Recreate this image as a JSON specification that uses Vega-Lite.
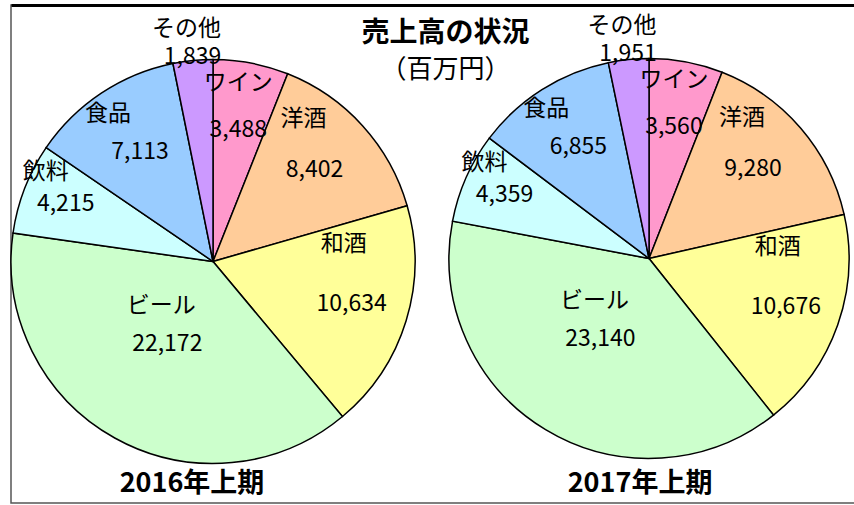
{
  "$schema": "https://vega.github.io/schema/vega-lite/v6.json",
  "width": 845,
  "height": 498,
  "autosize": "none",
  "padding": {"left": 11, "top": 5, "right": 0, "bottom": 2},
  "background": "white",
  "config": {
    "view": {"stroke": "#555", "strokeWidth": 1.5},
    "font": "Noto Sans CJK JP",
    "text": {"font": "Noto Sans CJK JP", "color": "#000"}
  },
  "title": {
    "text": "売上高の状況",
    "subtitle": "（百万円）",
    "anchor": "middle",
    "frame": "group",
    "offset": -78,
    "dx": 12,
    "font": "Noto Sans CJK JP",
    "fontSize": 28,
    "fontWeight": "bold",
    "color": "#000",
    "subtitleFont": "Noto Sans CJK JP",
    "subtitleFontSize": 26,
    "subtitleColor": "#000",
    "subtitlePadding": 9
  },
  "data": {
    "values": [
      {"year": "2016年上期", "name": "ワイン", "value": 3488, "order": 1},
      {"year": "2016年上期", "name": "洋酒", "value": 8402, "order": 2},
      {"year": "2016年上期", "name": "和酒", "value": 10634, "order": 3},
      {"year": "2016年上期", "name": "ビール", "value": 22172, "order": 4},
      {"year": "2016年上期", "name": "飲料", "value": 4215, "order": 5},
      {"year": "2016年上期", "name": "食品", "value": 7113, "order": 6},
      {"year": "2016年上期", "name": "その他", "value": 1839, "order": 7},
      {"year": "2017年上期", "name": "ワイン", "value": 3560, "order": 1},
      {"year": "2017年上期", "name": "洋酒", "value": 9280, "order": 2},
      {"year": "2017年上期", "name": "和酒", "value": 10676, "order": 3},
      {"year": "2017年上期", "name": "ビール", "value": 23140, "order": 4},
      {"year": "2017年上期", "name": "飲料", "value": 4359, "order": 5},
      {"year": "2017年上期", "name": "食品", "value": 6855, "order": 6},
      {"year": "2017年上期", "name": "その他", "value": 1951, "order": 7}
    ]
  },
  "transform": [
    {"stack": "value", "groupby": ["year"], "sort": [{"field": "order", "order": "ascending"}], "as": ["v0", "v1"], "offset": "normalize"},
    {"calculate": "(datum.v0 + datum.v1) / 2", "as": "vm"}
  ],
  "encoding": {
    "x": {
      "field": "year", "type": "nominal",
      "scale": {"type": "band", "domain": ["2016年上期", "2017年上期"], "paddingInner": 0.5, "paddingOuter": 0.219, "align": 0.487},
      "axis": {"orient": "top", "labels": false, "ticks": false, "title": null, "grid": false, "domain": true, "domainColor": "#000", "domainWidth": 3}
    },
    "y": {
      "field": "year", "type": "nominal",
      "scale": {"type": "point", "domain": ["2017年上期", "2016年上期"], "range": [252, 258]},
      "axis": null
    }
  },
  "layer": [
    {
      "transform": [{"filter": {"field": "year", "equal": "2016年上期"}}],
      "mark": {"type": "arc", "radius": 202, "stroke": "#000", "strokeWidth": 1.5},
      "encoding": {
        "theta": {"field": "v0", "type": "quantitative", "scale": {"domain": [0, 1]}},
        "theta2": {"field": "v1"},
        "color": {"field": "name", "type": "nominal", "legend": null,
          "scale": {"domain": ["ワイン", "洋酒", "和酒", "ビール", "飲料", "食品", "その他"], "range": ["#FF99CC", "#FFCC99", "#FFFF99", "#CCFFCC", "#CCFFFF", "#99CCFF", "#CC99FF"]}}
      }
    },
    {
      "transform": [{"filter": {"field": "year", "equal": "2017年上期"}}],
      "mark": {"type": "arc", "radius": 200, "stroke": "#000", "strokeWidth": 1.5},
      "encoding": {
        "theta": {"field": "v0", "type": "quantitative", "scale": {"domain": [0, 1]}},
        "theta2": {"field": "v1"},
        "color": {"field": "name", "type": "nominal", "legend": null,
          "scale": {"domain": ["ワイン", "洋酒", "和酒", "ビール", "飲料", "食品", "その他"], "range": ["#FF99CC", "#FFCC99", "#FFFF99", "#CCFFCC", "#CCFFFF", "#99CCFF", "#CC99FF"]}}
      }
    },
    {"transform": [{"filter": {"field": "name", "equal": "ワイン"}}], "mark": {"type": "text", "radius": 134, "fontSize": 23, "align": "center", "baseline": "middle"}, "encoding": {"theta": {"field": "vm", "type": "quantitative", "scale": {"domain": [0, 1]}}, "text": {"field": "value", "type": "quantitative", "format": ","}}},
    {"transform": [{"filter": {"field": "name", "equal": "ワイン"}}], "mark": {"type": "text", "radius": 134, "dx": 0, "dy": -47, "fontSize": 23, "align": "center", "baseline": "middle"}, "encoding": {"theta": {"field": "vm", "type": "quantitative", "scale": {"domain": [0, 1]}}, "text": {"field": "name"}}},
    {"transform": [{"filter": {"field": "name", "equal": "洋酒"}}], "mark": {"type": "text", "radius": 137, "fontSize": 23, "align": "center", "baseline": "middle"}, "encoding": {"theta": {"field": "vm", "type": "quantitative", "scale": {"domain": [0, 1]}}, "text": {"field": "value", "type": "quantitative", "format": ","}}},
    {"transform": [{"filter": {"field": "name", "equal": "洋酒"}}], "mark": {"type": "text", "radius": 137, "dx": -11, "dy": -51, "fontSize": 23, "align": "center", "baseline": "middle"}, "encoding": {"theta": {"field": "vm", "type": "quantitative", "scale": {"domain": [0, 1]}}, "text": {"field": "name"}}},
    {"transform": [{"filter": {"field": "name", "equal": "和酒"}}], "mark": {"type": "text", "radius": 145, "fontSize": 23, "align": "center", "baseline": "middle"}, "encoding": {"theta": {"field": "vm", "type": "quantitative", "scale": {"domain": [0, 1]}}, "text": {"field": "value", "type": "quantitative", "format": ","}}},
    {"transform": [{"filter": {"field": "name", "equal": "和酒"}}], "mark": {"type": "text", "radius": 145, "dx": -8, "dy": -60, "fontSize": 23, "align": "center", "baseline": "middle"}, "encoding": {"theta": {"field": "vm", "type": "quantitative", "scale": {"domain": [0, 1]}}, "text": {"field": "name"}}},
    {"transform": [{"filter": {"field": "name", "equal": "ビール"}}], "mark": {"type": "text", "radius": 94, "fontSize": 23, "align": "center", "baseline": "middle"}, "encoding": {"theta": {"field": "vm", "type": "quantitative", "scale": {"domain": [0, 1]}}, "text": {"field": "value", "type": "quantitative", "format": ","}}},
    {"transform": [{"filter": {"field": "name", "equal": "ビール"}}], "mark": {"type": "text", "radius": 94, "dx": -6, "dy": -38, "fontSize": 23, "align": "center", "baseline": "middle"}, "encoding": {"theta": {"field": "vm", "type": "quantitative", "scale": {"domain": [0, 1]}}, "text": {"field": "name"}}},
    {"transform": [{"filter": {"field": "name", "equal": "飲料"}}], "mark": {"type": "text", "radius": 158, "fontSize": 23, "align": "center", "baseline": "middle"}, "encoding": {"theta": {"field": "vm", "type": "quantitative", "scale": {"domain": [0, 1]}}, "text": {"field": "value", "type": "quantitative", "format": ","}}},
    {"transform": [{"filter": {"field": "name", "equal": "飲料"}}], "mark": {"type": "text", "radius": 158, "dx": -20, "dy": -32, "fontSize": 23, "align": "center", "baseline": "middle"}, "encoding": {"theta": {"field": "vm", "type": "quantitative", "scale": {"domain": [0, 1]}}, "text": {"field": "name"}}},
    {"transform": [{"filter": {"field": "name", "equal": "食品"}}], "mark": {"type": "text", "radius": 132, "fontSize": 23, "align": "center", "baseline": "middle"}, "encoding": {"theta": {"field": "vm", "type": "quantitative", "scale": {"domain": [0, 1]}}, "text": {"field": "value", "type": "quantitative", "format": ","}}},
    {"transform": [{"filter": {"field": "name", "equal": "食品"}}], "mark": {"type": "text", "radius": 132, "dx": -32, "dy": -38, "fontSize": 23, "align": "center", "baseline": "middle"}, "encoding": {"theta": {"field": "vm", "type": "quantitative", "scale": {"domain": [0, 1]}}, "text": {"field": "name"}}},
    {"transform": [{"filter": {"field": "name", "equal": "その他"}}], "mark": {"type": "text", "radius": 206, "fontSize": 23, "align": "center", "baseline": "middle"}, "encoding": {"theta": {"field": "vm", "type": "quantitative", "scale": {"domain": [0, 1]}}, "text": {"field": "value", "type": "quantitative", "format": ","}}},
    {"transform": [{"filter": {"field": "name", "equal": "その他"}}], "mark": {"type": "text", "radius": 206, "dx": -6, "dy": -28, "fontSize": 23, "align": "center", "baseline": "middle"}, "encoding": {"theta": {"field": "vm", "type": "quantitative", "scale": {"domain": [0, 1]}}, "text": {"field": "name"}}},
    {"transform": [{"filter": {"field": "name", "equal": "ワイン"}}, {"filter": {"field": "year", "equal": "2016年上期"}}], "mark": {"type": "text", "theta": 3.14159, "radius": 222, "dx": -21, "fontSize": 27, "fontWeight": "bold", "align": "center", "baseline": "middle"}, "encoding": {"text": {"field": "year"}}},
    {"transform": [{"filter": {"field": "name", "equal": "ワイン"}}, {"filter": {"field": "year", "equal": "2017年上期"}}], "mark": {"type": "text", "theta": 3.14159, "radius": 225, "dx": -9, "fontSize": 27, "fontWeight": "bold", "align": "center", "baseline": "middle"}, "encoding": {"text": {"field": "year"}}}
  ]
}
